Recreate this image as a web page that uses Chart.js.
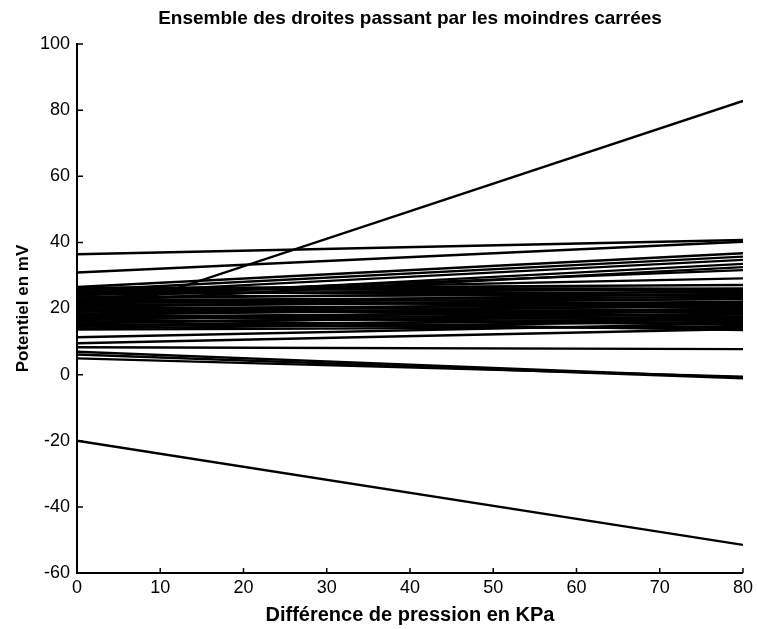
<!DOCTYPE html>
<html>
<head>
<meta charset="utf-8">
<title>Ensemble des droites</title>
<script src="https://cdn.jsdelivr.net/npm/chart.js@4/dist/chart.umd.min.js"></script>
<style>
  html, body { margin: 0; padding: 0; background: #fff; }
  #wrap { width: 757px; height: 629px; }
</style>
</head>
<body>
<div id="wrap"><canvas id="droites"></canvas></div>
<script>
const chartTitle = 'Ensemble des droites passant par les moindres carrées';

// x range of every fitted line (kPa)
const xStart = 0;
const xEnd = 80;

// potential at x = 0 and x = 80 for each least-squares line (mV)
const startValues = [
  36.4, 30.9, 16.1,
  26.5, 25.5, 24.5, 23.0, 22.0, 24.0, 25.0, 26.0,
  26.4, 25.8, 24.8, 24.2, 23.6, 23.0, 22.5, 22.0, 21.5, 21.0,
  20.5, 20.0, 19.5, 19.0, 18.5, 18.0, 17.5, 17.0, 16.5, 16.0,
  15.5, 15.0, 14.5, 14.0, 13.6, 16.8, 18.0, 20.0,
  25.2, 21.8, 19.2, 17.2, 15.2, 22.8,
  11.3, 9.5, 8.3, 6.9, 6.1, 4.9,
  -20.0
];
const endValues = [
  40.7, 40.2, 82.8,
  36.7, 35.7, 34.7, 33.5, 32.5, 31.6, 29.1, 27.1,
  26.0, 25.5, 24.8, 26.0, 24.2, 25.2, 23.5, 22.8, 24.5, 22.0,
  23.0, 21.2, 20.5, 22.0, 19.8, 21.0, 19.0, 18.2, 20.0, 17.5,
  18.5, 16.5, 17.0, 16.0, 14.5, 13.5, 15.0, 17.5,
  23.8, 21.6, 19.4, 16.8, 14.0, 20.2,
  15.5, 13.8, 7.7, -0.9, -1.1, -0.6,
  -51.5
];

const xTicks = [0, 10, 20, 30, 40, 50, 60, 70, 80];
const yTicks = [-60, -40, -20, 0, 20, 40, 60, 80, 100];

const datasets = startValues.map((s, i) => ({
  data: [{ x: xStart, y: s }, { x: xEnd, y: endValues[i] }],
  showLine: true,
  borderColor: '#000',
  borderWidth: 2.4,
  pointRadius: 0,
  fill: false
}));

// short tick marks pointing into the plot, plus the title centred over the axes
const axesDecor = {
  id: 'axesDecor',
  afterDatasetsDraw(chart) {
    const { ctx, chartArea, scales } = chart;
    ctx.save();
    ctx.strokeStyle = '#000';
    ctx.lineWidth = 1.5;
    ctx.beginPath();
    xTicks.forEach(v => {
      const px = scales.x.getPixelForValue(v);
      ctx.moveTo(px, chartArea.bottom);
      ctx.lineTo(px, chartArea.bottom - 5);
    });
    yTicks.forEach(v => {
      const py = scales.y.getPixelForValue(v);
      ctx.moveTo(chartArea.left, py);
      ctx.lineTo(chartArea.left + 6, py);
    });
    ctx.stroke();

    ctx.fillStyle = '#000';
    ctx.font = 'bold 19px "Liberation Sans", Arial, sans-serif';
    ctx.textAlign = 'center';
    ctx.textBaseline = 'middle';
    ctx.fillText(chartTitle, (chartArea.left + chartArea.right) / 2, 19);
    ctx.restore();
  }
};

new Chart(document.getElementById('droites'), {
  type: 'scatter',
  data: { datasets },
  plugins: [axesDecor],
  options: {
    responsive: true,
    maintainAspectRatio: false,
    animation: false,
    layout: { padding: { top: 44, right: 14 } },
    plugins: {
      legend: { display: false },
      tooltip: { enabled: false },
      title: { display: false }
    },
    scales: {
      x: {
        type: 'linear',
        min: 0,
        max: 80,
        afterBuildTicks(scale) { scale.ticks = xTicks.map(v => ({ value: v })); },
        afterFit(scale) { scale.height = 56; },
        grid: { display: true, drawOnChartArea: false, drawTicks: false },
        border: { display: true, color: '#000', width: 2 },
        ticks: {
          color: '#000',
          padding: 4,
          font: { family: '"Liberation Sans", Arial, sans-serif', size: 18 }
        },
        title: {
          display: true,
          text: 'Différence de pression en KPa',
          color: '#000',
          font: { family: '"Liberation Sans", Arial, sans-serif', size: 20, weight: 'bold' },
          padding: { top: 0, bottom: 2 }
        }
      },
      y: {
        type: 'linear',
        min: -60,
        max: 100,
        afterBuildTicks(scale) { scale.ticks = yTicks.map(v => ({ value: v })); },
        afterFit(scale) { scale.width = 77; },
        grid: { display: true, drawOnChartArea: false, drawTicks: false },
        border: { display: true, color: '#000', width: 2 },
        ticks: {
          color: '#000',
          padding: 7,
          font: { family: '"Liberation Sans", Arial, sans-serif', size: 18 }
        },
        title: {
          display: true,
          text: 'Potentiel en mV',
          color: '#000',
          font: { family: '"Liberation Sans", Arial, sans-serif', size: 17, weight: 'bold' },
          padding: { top: 13, bottom: 0 }
        }
      }
    }
  }
});
</script>
</body>
</html>
